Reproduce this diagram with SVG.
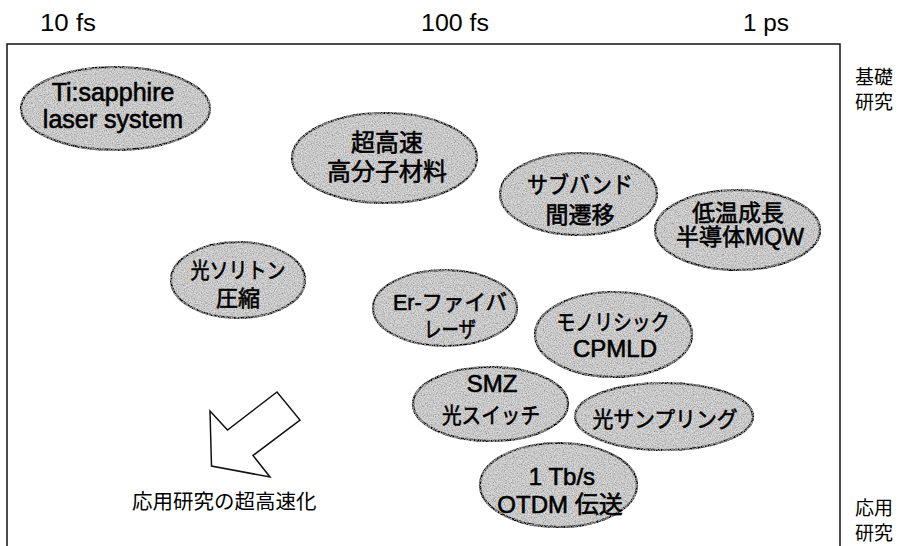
<svg xmlns="http://www.w3.org/2000/svg" width="907" height="546" viewBox="0 0 907 546">
<defs>
<filter id="grain" x="-5%" y="-5%" width="110%" height="110%">
 <feTurbulence type="fractalNoise" baseFrequency="0.9" numOctaves="1" seed="7" result="t"/>
 <feColorMatrix in="t" type="matrix" values="0 0 0 0 0  0 0 0 0 0  0 0 0 0 0  1.3 0 0 0 -0.5" result="d"/>
 <feComposite in="d" in2="SourceAlpha" operator="in" result="d2"/>
 <feTurbulence type="fractalNoise" baseFrequency="0.7" numOctaves="1" seed="21" result="t2"/>
 <feColorMatrix in="t2" type="matrix" values="0 0 0 0 1  0 0 0 0 1  0 0 0 0 1  1.3 0 0 0 -0.5" result="w"/>
 <feComposite in="w" in2="SourceAlpha" operator="in" result="w2"/>
 <feMerge><feMergeNode in="SourceGraphic"/><feMergeNode in="d2"/><feMergeNode in="w2"/></feMerge>
</filter>
<style>
 .bub{fill:#c9c9c9;stroke:#111;stroke-width:2.2;filter:url(#grain)}
 .t{font-family:"Liberation Sans","Noto Sans CJK JP",sans-serif;fill:#000;stroke:#000;stroke-width:0.6;text-anchor:middle}
 .b{font-size:23px}
 .ax{font-family:"Liberation Sans",Arial,sans-serif;font-size:23px;fill:#000;text-anchor:middle}
 .lab{font-family:"Noto Sans CJK JP","Liberation Sans",sans-serif;font-size:19px;fill:#000}
 .frame{fill:none;stroke:#111;stroke-width:1.5}
</style>
</defs>
<rect width="907" height="546" fill="#fff"/>
<g id="axis">
 <text class="ax" x="68" y="31" textLength="56" lengthAdjust="spacingAndGlyphs">10 fs</text>
 <text class="ax" x="455" y="31" textLength="68" lengthAdjust="spacingAndGlyphs">100 fs</text>
 <text class="ax" x="766" y="31" textLength="46" lengthAdjust="spacingAndGlyphs">1 ps</text>
</g>
<path class="frame" d="M7,547 V44 H840 V547"/>
<g id="side-labels">
 <text class="lab" x="855" y="84">基礎</text>
 <text class="lab" x="855" y="109">研究</text>
 <text class="lab" x="855" y="515">応用</text>
 <text class="lab" x="855" y="540">研究</text>
</g>
<g id="n-ti">
 <ellipse class="bub" cx="115.5" cy="108.5" rx="94.5" ry="41.5"/>
 <text class="t" x="113" y="101" font-size="25">Ti:sapphire</text>
 <text class="t" x="113" y="128" font-size="25">laser system</text>
</g>
<g id="n-polymer">
 <ellipse class="bub" cx="384.5" cy="158" rx="92.5" ry="45"/>
 <text class="t" x="387" y="151" font-size="24">超高速</text>
 <text class="t" x="387" y="180" font-size="24">高分子材料</text>
</g>
<g id="n-subband">
 <ellipse class="bub" cx="578.5" cy="194" rx="78.5" ry="41"/>
 <text class="t b" x="580" y="193" textLength="106" lengthAdjust="spacingAndGlyphs">サブバンド</text>
 <text class="t b" x="580" y="223">間遷移</text>
</g>
<g id="n-mqw">
 <ellipse class="bub" cx="737.5" cy="230" rx="82.5" ry="40"/>
 <text class="t b" x="738" y="221">低温成長</text>
 <text class="t b" x="740" y="245">半導体MQW</text>
</g>
<g id="n-soliton">
 <ellipse class="bub" cx="238" cy="280" rx="67" ry="38"/>
 <text class="t" x="238" y="278" font-size="22" textLength="95" lengthAdjust="spacingAndGlyphs">光ソリトン</text>
 <text class="t" x="238" y="306" font-size="22">圧縮</text>
</g>
<g id="n-er">
 <ellipse class="bub" cx="445" cy="308" rx="72" ry="38"/>
 <text class="t" x="450" y="310" font-size="22" textLength="114" lengthAdjust="spacingAndGlyphs">Er-ファイバ</text>
 <text class="t" x="450" y="337" font-size="22" textLength="52" lengthAdjust="spacingAndGlyphs">レーザ</text>
</g>
<g id="n-cpmld">
 <ellipse class="bub" cx="613.5" cy="334.5" rx="78.5" ry="42.5"/>
 <text class="t" x="613" y="330" font-size="22" textLength="113" lengthAdjust="spacingAndGlyphs">モノリシック</text>
 <text class="t" x="615" y="357" font-size="24">CPMLD</text>
</g>
<g id="n-smz">
 <ellipse class="bub" cx="490.5" cy="404" rx="77.5" ry="37"/>
 <text class="t" x="492" y="392" font-size="24">SMZ</text>
 <text class="t" x="491" y="423" font-size="22" textLength="98" lengthAdjust="spacingAndGlyphs">光スイッチ</text>
</g>
<g id="n-sampling">
 <ellipse class="bub" cx="664" cy="416.5" rx="89" ry="33.5"/>
 <text class="t" x="665" y="427" font-size="22" textLength="145" lengthAdjust="spacingAndGlyphs">光サンプリング</text>
</g>
<g id="n-otdm">
 <ellipse class="bub" cx="558.5" cy="485" rx="78.5" ry="42"/>
 <text class="t" x="562" y="485" font-size="24">1 Tb/s</text>
 <text class="t" x="560" y="513" font-size="24">OTDM 伝送</text>
</g>
<g id="trend">
 <polygon points="210,411 227.5,430 277,392 300,420 253,455.5 270,477 211.5,466" fill="#fff" stroke="#111" stroke-width="1.5" stroke-linejoin="miter"/>
 <text x="132" y="509" style="font-family:'Noto Sans CJK JP','Liberation Sans',sans-serif;font-size:20.5px;fill:#000">応用研究の超高速化</text>
</g>
</svg>
